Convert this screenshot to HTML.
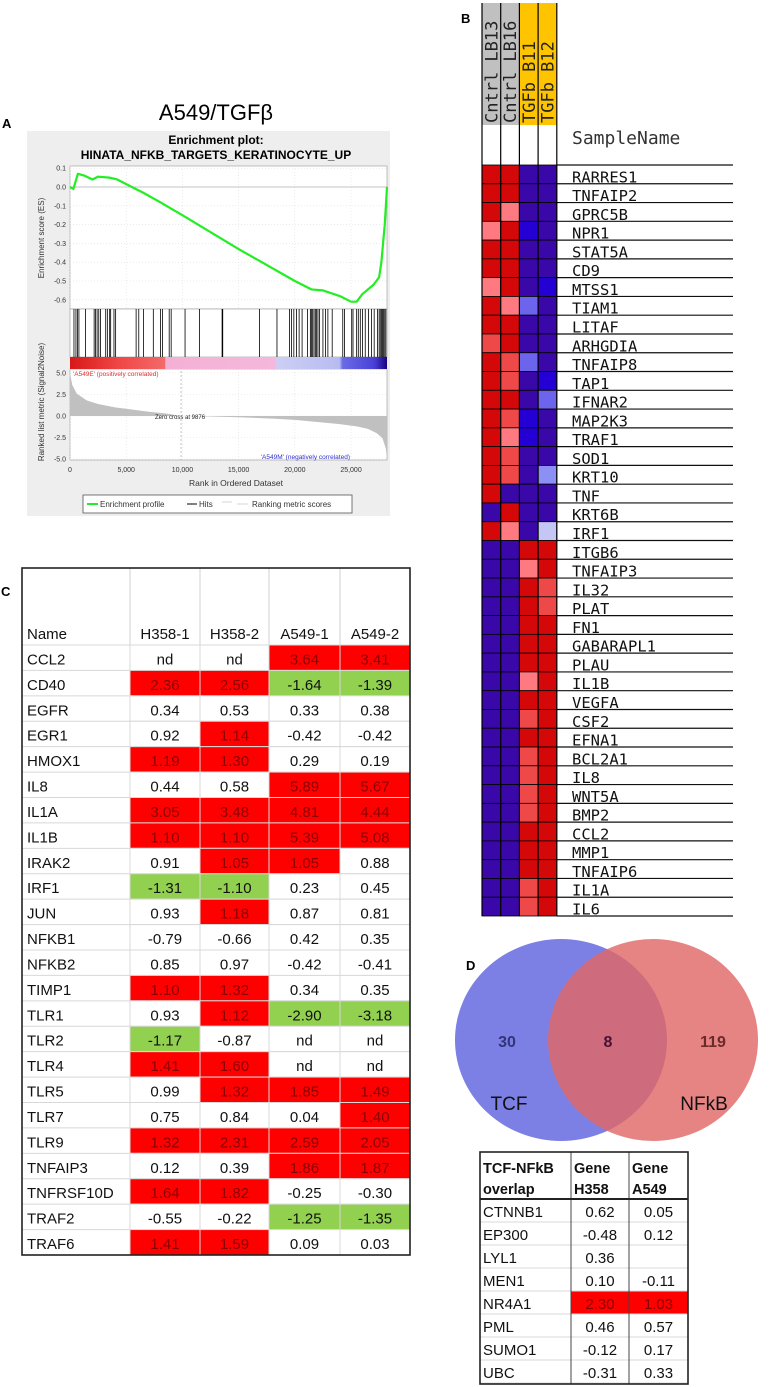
<!DOCTYPE html>
<html><head><meta charset="utf-8"><style>
html,body{margin:0;padding:0;background:#fff;width:773px;height:1387px;overflow:hidden}
svg{display:block}
.sans{font-family:"Liberation Sans",sans-serif}
.mono{font-family:"DejaVu Sans Mono","Liberation Mono",monospace}
</style></head><body>
<svg id="fig" width="773" height="1387" viewBox="0 0 773 1387" xmlns="http://www.w3.org/2000/svg">
<text x="2" y="128" class="sans" font-size="13" font-weight="bold">A</text>
<text x="461" y="23" class="sans" font-size="13" font-weight="bold">B</text>
<text x="1" y="596" class="sans" font-size="13" font-weight="bold">C</text>
<text x="466" y="970" class="sans" font-size="13" font-weight="bold">D</text>
<g id="pa"></g>
<g id="pb"></g>
<g id="pc"></g>
<g id="pd"></g>
<g id="pe"></g>
</svg>
<script>
// ---------- Panel A data ----------
const esRanks = [0,300,700,1300,2000,2500,3500,4200,5500,6500,8000,10000,15000,20000,21500,22500,24000,25000,25500,26000,27000,27500,27700,28000,28200];
const esValues = [0,-0.01,0.07,0.06,0.04,0.055,0.05,0.04,0.0,-0.03,-0.08,-0.15,-0.33,-0.5,-0.545,-0.55,-0.58,-0.61,-0.61,-0.57,-0.52,-0.48,-0.4,-0.2,0.0];
const hitRanks = [353,529,676,794,1382,2147,2265,2412,2559,2706,3176,3323,3529,3618,3912,4059,5882,6118,6529,7412,8059,8235,8824,9000,10235,11529,13529,13588,16853,18412,19529,19706,19912,20147,20382,20647,21118,21382,21471,21588,21706,21824,21941,22059,22206,22500,22735,22941,23324,24265,24412,25059,25176,25500,25647,25824,26029,26265,26559,26824,27059,27350,27500,27600,27700,27800,27900,28000,28100];
const metricRanks = [0,200,600,1500,2500,4000,5500,7000,8500,9876,12000,15000,18000,20000,22000,24000,25500,26500,27300,27800,28100,28200];
const metricValues = [5.0,3.6,2.6,1.8,1.4,1.0,0.75,0.5,0.3,0.0,-0.05,-0.15,-0.3,-0.45,-0.7,-0.95,-1.2,-1.5,-2.0,-2.6,-3.8,-5.0];
const xTicks = [0,5000,10000,15000,20000,25000];
const xTickLabels = ["0","5,000","10,000","15,000","20,000","25,000"];
const esTicks = [0.1,0.0,-0.1,-0.2,-0.3,-0.4,-0.5,-0.6];
const metricTicks = [5.0,2.5,0.0,-2.5,-5.0];
const zeroCross = 9876;

// ---------- Panel B data ----------
const genes = ["RARRES1","TNFAIP2","GPRC5B","NPR1","STAT5A","CD9","MTSS1","TIAM1","LITAF","ARHGDIA","TNFAIP8","TAP1","IFNAR2","MAP2K3","TRAF1","SOD1","KRT10","TNF","KRT6B","IRF1","ITGB6","TNFAIP3","IL32","PLAT","FN1","GABARAPL1","PLAU","IL1B","VEGFA","CSF2","EFNA1","BCL2A1","IL8","WNT5A","BMP2","CCL2","MMP1","TNFAIP6","IL1A","IL6"];
const samples = ["Cntrl LB13","Cntrl LB16","TGFb B11","TGFb B12"];
const col1 = [2,2,2,0.8,2,2,0.8,2,2,1.3,2,2,2,2,2,2,2,2,-2,2,-2,-2,-2,-2,-2,-2,-2,-2,-2,-2,-2,-2,-2,-2,-2,-2,-2,-2,-2,-2];
const col2 = [2,2,0.8,2,2,2,2,0.8,2,2,1.3,1.3,2,1.3,0.8,1.3,1.3,-2,2,0.8,-2,-2,-2,-2,-2,-2,-2,-2,-2,-2,-2,-2,-2,-2,-2,-2,-2,-2,-2,-2];
const col3 = [-2,-2,-2,-2.5,-2,-2,-2,-1,-2,-2,-1,-2,-2,-2.5,-2.5,-2,-2,-2,-2,-2,2,0.8,2,2,2,2,2,0.8,2,1.3,2,1.3,1.3,1.3,1.3,2,2,2,1.3,1.3];
const col4 = [-2,-2,-2,-2,-2,-2,-2.5,-2,-2,-2,-2,-2.5,-1,-2,-2,-2,-0.8,-2,-2,-0.4,2,2,1.3,1.3,2,2,2,2,2,2,2,2,2,2,2,2,2,2,2,2];

// ---------- Panel C data ----------
const cGenes = ["CCL2","CD40","EGFR","EGR1","HMOX1","IL8","IL1A","IL1B","IRAK2","IRF1","JUN","NFKB1","NFKB2","TIMP1","TLR1","TLR2","TLR4","TLR5","TLR7","TLR9","TNFAIP3","TNFRSF10D","TRAF2","TRAF6"];
const cCols = ["H358-1","H358-2","A549-1","A549-2"];
const h358a = ["nd","2.36","0.34","0.92","1.19","0.44","3.05","1.10","0.91","-1.31","0.93","-0.79","0.85","1.10","0.93","-1.17","1.41","0.99","0.75","1.32","0.12","1.64","-0.55","1.41"];
const h358b = ["nd","2.56","0.53","1.14","1.30","0.58","3.48","1.10","1.05","-1.10","1.18","-0.66","0.97","1.32","1.12","-0.87","1.60","1.32","0.84","2.31","0.39","1.82","-0.22","1.59"];
const a549a = ["3.64","-1.64","0.33","-0.42","0.29","5.89","4.81","5.39","1.05","0.23","0.87","0.42","-0.42","0.34","-2.90","nd","nd","1.85","0.04","2.59","1.86","-0.25","-1.25","0.09"];
const a549b = ["3.41","-1.39","0.38","-0.42","0.19","5.67","4.44","5.08","0.88","0.45","0.81","0.35","-0.41","0.35","-3.18","nd","nd","1.49","1.40","2.05","1.87","-0.30","-1.35","0.03"];

// ---------- Panel D data ----------
const vennCounts = [30,8,119];
const vennSets = ["TCF","NFkB"];
const dGenes = ["CTNNB1","EP300","LYL1","MEN1","NR4A1","PML","SUMO1","UBC"];
const dH358 = ["0.62","-0.48","0.36","0.10","2.30","0.46","-0.12","-0.31"];
const dA549 = ["0.05","0.12","","-0.11","1.03","0.57","0.17","0.33"];

const NS="http://www.w3.org/2000/svg";
function mk(parent,tag,attrs,text){const e=document.createElementNS(NS,tag);for(const k in attrs)e.setAttribute(k,attrs[k]);if(text!==undefined)e.textContent=text;parent.appendChild(e);return e;}

// ===== Panel A =====
(function(){
const g=document.getElementById('pa');
const X0=70,X1=387,RMAX=28000;
const xs=r=>X0+(r/RMAX)*(X1-X0)*(28000/28200);
const yES=v=>187-v*188;
const yM=v=>416-v*8.6;
let e;
e=mk(g,'rect',{x:27,y:131,width:363,height:385,fill:'#eeeeee'});

e=mk(g,'text',{x:216,y:120,'text-anchor':'middle','font-size':22,class:'sans'},'A549/TGFβ');

e=mk(g,'text',{x:216,y:144,'text-anchor':'middle','font-size':12,'font-weight':'bold',class:'sans'},'Enrichment plot:');

e=mk(g,'text',{x:216,y:159,'text-anchor':'middle','font-size':12,'font-weight':'bold',class:'sans'},'HINATA_NFKB_TARGETS_KERATINOCYTE_UP');

mk(g,'rect',{x:X0,y:166,width:X1-X0,height:143,fill:'#fff',stroke:'#999','stroke-width':0.6});
mk(g,'rect',{x:X0,y:309,width:X1-X0,height:48,fill:'#fff',stroke:'#999','stroke-width':0.6});
mk(g,'rect',{x:X0,y:369,width:X1-X0,height:91,fill:'#fff',stroke:'#999','stroke-width':0.6});
xTicks.forEach((t,i)=>{
  mk(g,'line',{x1:xs(t),x2:xs(t),y1:166,y2:309,stroke:'#ddd','stroke-width':0.6,'stroke-dasharray':'1,2'});
  mk(g,'line',{x1:xs(t),x2:xs(t),y1:369,y2:460,stroke:'#ddd','stroke-width':0.6,'stroke-dasharray':'1,2'});
  e=mk(g,'text',{x:xs(t),y:472,'text-anchor':'middle','font-size':7,class:'sans',fill:'#333'},xTickLabels[i]);
  
});
esTicks.forEach(t=>{
  mk(g,'line',{x1:X0,x2:X1,y1:yES(t),y2:yES(t),stroke:t===0?'#888':'#ddd','stroke-width':0.6,'stroke-dasharray':t===0?'':'1,2'});
  e=mk(g,'text',{x:66,y:yES(t)+2.5,'text-anchor':'end','font-size':7,class:'sans',fill:'#333'},t.toFixed(1));
  
});
metricTicks.forEach(t=>{
  mk(g,'line',{x1:X0,x2:X1,y1:yM(t),y2:yM(t),stroke:'#ddd','stroke-width':0.6,'stroke-dasharray':'1,2'});
  e=mk(g,'text',{x:66,y:yM(t)+2.5,'text-anchor':'end','font-size':7,class:'sans',fill:'#333'},t.toFixed(1));
  
});
e=mk(g,'text',{x:0,y:0,'font-size':8,class:'sans',fill:'#333','text-anchor':'middle',transform:'translate(44,238) rotate(-90)'},'Enrichment score (ES)');

e=mk(g,'text',{x:0,y:0,'font-size':8,class:'sans',fill:'#333','text-anchor':'middle',transform:'translate(44,402) rotate(-90)'},'Ranked list metric (Signal2Noise)');

e=mk(g,'text',{x:236,y:486,'text-anchor':'middle','font-size':8.5,class:'sans',fill:'#333'},'Rank in Ordered Dataset');

let d='M'+xs(0)+','+yM(0);
metricRanks.forEach((r,i)=>{d+=' L'+xs(r)+','+yM(metricValues[i]);});
d+=' L'+xs(metricRanks[metricRanks.length-1])+','+yM(0)+' Z';
e=mk(g,'path',{d:d,fill:'#c0c0c0',stroke:'none'});

e=mk(g,'line',{x1:xs(zeroCross),x2:xs(zeroCross),y1:371,y2:460,stroke:'#999','stroke-width':0.6,'stroke-dasharray':'2,2'});

e=mk(g,'text',{x:xs(zeroCross)-1,y:419,'text-anchor':'middle','font-size':6,class:'sans',fill:'#222'},'Zero cross at '+zeroCross);

e=mk(g,'text',{x:73,y:376,'font-size':6.5,class:'sans',fill:'#e03030'},"'A549E' (positively correlated)");

e=mk(g,'text',{x:350,y:459,'text-anchor':'end','font-size':6.5,class:'sans',fill:'#3030d0'},"'A549M' (negatively correlated)");

const defs=mk(g,'defs',{});
const lg=mk(defs,'linearGradient',{id:'cbar',x1:0,x2:1,y1:0,y2:0});
[[0,'#d81818'],[0.15,'#f04545'],[0.3,'#f36a6a'],[0.301,'#f4b0d4'],[0.65,'#f4b8dc'],[0.651,'#cccff4'],[0.85,'#b8bbf0'],[0.86,'#6a6ae6'],[0.96,'#4a40d8'],[1,'#1a0080']].forEach(s=>mk(lg,'stop',{offset:s[0],'stop-color':s[1]}));
e=mk(g,'rect',{x:X0,y:357,width:X1-X0,height:12,fill:'url(#cbar)'});

hitRanks.forEach(r=>{
  const h=mk(g,'line',{x1:xs(r),x2:xs(r),y1:309,y2:357,stroke:'#000','stroke-width':0.8});
  
  
});
let pts=esRanks.map((r,i)=>xs(r)+','+yES(esValues[i])).join(' ');
e=mk(g,'polyline',{points:pts,fill:'none',stroke:'#22ee22','stroke-width':2.2,'stroke-linejoin':'round'});

e=mk(g,'rect',{x:83,y:495,width:269,height:18,fill:'#fff',stroke:'#555','stroke-width':0.8});

mk(g,'line',{x1:87,x2:98,y1:504,y2:504,stroke:'#22ee22','stroke-width':2});
e=mk(g,'text',{x:100,y:507,'font-size':8,class:'sans',fill:'#333'},'Enrichment profile');

mk(g,'line',{x1:187,x2:197,y1:504,y2:504,stroke:'#000','stroke-width':1});
e=mk(g,'text',{x:199,y:507,'font-size':8,class:'sans',fill:'#333'},'Hits');

mk(g,'line',{x1:222,x2:232,y1:502,y2:502,stroke:'#bbb','stroke-width':0.6});
mk(g,'line',{x1:237,x2:248,y1:504,y2:504,stroke:'#bbb','stroke-width':0.6});
e=mk(g,'text',{x:252,y:507,'font-size':8,class:'sans',fill:'#333'},'Ranking metric scores');

})();

// ===== Panel B =====
(function(){
const g=document.getElementById('pb');
const CX=[482,500.7,519.4,538.1,556.8], TOP=165, RH=(916-165)/genes.length;
function col(v){
  if(v>=1.8)return '#d40808';
  if(v>=1.1)return '#ee4848';
  if(v>=0.5)return '#ff7a80';
  if(v<=-2.3)return '#2400d4';
  if(v<=-1.5)return '#3a08a8';
  if(v<=-0.9)return '#6c64ec';
  if(v<=-0.6)return '#8c90f4';
  return '#c4c6f6';
}
const cols=[col1,col2,col3,col4];
for(let c=0;c<4;c++){
  const hb=mk(g,'rect',{x:CX[c],y:3,width:CX[c+1]-CX[c],height:122,fill:c<2?'#c0c0c0':'#ffc400'});
  
  const t=mk(g,'text',{x:0,y:0,'font-size':17,class:'mono',fill:'#222',transform:'translate('+(CX[c]+15.5)+',123) rotate(-90)'},samples[c]);
  
}
let e=mk(g,'text',{x:572,y:144,'font-size':18,class:'mono',fill:'#333'},'SampleName');

for(let r=0;r<genes.length;r++){
  const y=TOP+r*RH;
  for(let c=0;c<4;c++){
    const cell=mk(g,'rect',{x:CX[c],y:y,width:CX[c+1]-CX[c],height:RH,fill:col(cols[c][r]),stroke:'#000','stroke-width':0.8});
    
    
  }
  const t=mk(g,'text',{x:572,y:y+RH-1.5,'font-size':15.5,class:'mono',fill:'#111'},genes[r]);
  
  
  mk(g,'line',{x1:557,x2:733,y1:y+RH,y2:y+RH,stroke:'#111','stroke-width':1.2});
}
mk(g,'line',{x1:557,x2:733,y1:TOP,y2:TOP,stroke:'#111','stroke-width':1.2});
for(let c=0;c<5;c++)mk(g,'line',{x1:CX[c],x2:CX[c],y1:3,y2:916,stroke:'#000','stroke-width':1.2});
})();

// ===== Panel C =====
(function(){
const g=document.getElementById('pc');
const X=[22,130,200,269,340,410], TOP=568, HB=645, RH=(1255-645)/cGenes.length;
const cols=[h358a,h358b,a549a,a549b];
function fill(c,v){
  if(v==='nd')return '#fff';
  const n=parseFloat(v);
  if(n>=1.0)return '#ff0000';
  if(n<=-1.0)return '#92d050';
  return '#fff';
}
let e=mk(g,'rect',{x:22,y:TOP,width:388,height:1255-TOP,fill:'#fff'});
for(let c=1;c<5;c++)mk(g,'line',{x1:X[c],x2:X[c],y1:TOP,y2:HB,stroke:'#d0d0d0','stroke-width':1});
e=mk(g,'text',{x:27,y:639,'font-size':15,class:'sans',fill:'#111'},'Name');

cCols.forEach((h,c)=>{const t=mk(g,'text',{x:(X[c+1]+X[c+2])/2,y:639,'text-anchor':'middle','font-size':15,class:'sans',fill:'#111'},h);
  });
for(let r=0;r<cGenes.length;r++){
  const y=HB+r*RH;
  for(let c=0;c<4;c++){
    const v=cols[c][r];
    const cell=mk(g,'rect',{x:X[c+1],y:y,width:X[c+2]-X[c+1],height:RH,fill:fill(c,v),stroke:'#d8d8d8','stroke-width':1});
    
    
    const t=mk(g,'text',{x:(X[c+1]+X[c+2])/2,y:y+RH-6,'text-anchor':'middle','font-size':15,class:'sans',fill:fill(c,v)==='#ff0000'?'#8a0000':'#111'},v);
    
    
  }
  mk(g,'line',{x1:22,x2:130,y1:y+RH,y2:y+RH,stroke:'#d8d8d8','stroke-width':1});
  const n=mk(g,'text',{x:27,y:y+RH-6,'font-size':15,class:'sans',fill:'#111'},cGenes[r]);
  
  
}
mk(g,'line',{x1:22,x2:410,y1:HB,y2:HB,stroke:'#d8d8d8','stroke-width':1});
mk(g,'line',{x1:130,x2:130,y1:HB,y2:1255,stroke:'#d8d8d8','stroke-width':1});
mk(g,'rect',{x:22,y:TOP,width:388,height:1255-TOP,fill:'none',stroke:'#222','stroke-width':1.6});
})();

// ===== Panel D venn =====
(function(){
const g=document.getElementById('pd');
let e=mk(g,'ellipse',{cx:561,cy:1040,rx:106,ry:101,fill:'#6a6ee0','fill-opacity':0.88});

e=mk(g,'ellipse',{cx:653,cy:1040,rx:105,ry:101,fill:'#e06868','fill-opacity':0.82});

const cxs=[507,608,713], fills=['#34347a','#4a1030','#6a2a2a'];
vennCounts.forEach((v,i)=>{const t=mk(g,'text',{x:cxs[i],y:1047,'text-anchor':'middle','font-size':16,'font-weight':'bold',class:'sans',fill:fills[i]},String(v));
  });
e=mk(g,'text',{x:509,y:1110,'text-anchor':'middle','font-size':19,class:'sans',fill:'#111'},vennSets[0]);

e=mk(g,'text',{x:704,y:1110,'text-anchor':'middle','font-size':19,class:'sans',fill:'#111'},vennSets[1]);

})();

// ===== Panel D table =====
(function(){
const g=document.getElementById('pe');
const X=[480,571,629,688], TOP=1152, HB=1199, RH=23;
mk(g,'rect',{x:480,y:TOP,width:208,height:1384-TOP,fill:'#fff'});
let e;
[['TCF-NFkB','overlap'],['Gene','H358'],['Gene','A549']].forEach((h,c)=>{
  e=mk(g,'text',{x:X[c]+3,y:1173,'font-size':14.5,'font-weight':'bold',class:'sans',fill:'#111'},h[0]);
  
  e=mk(g,'text',{x:X[c]+3,y:1194,'font-size':14.5,'font-weight':'bold',class:'sans',fill:'#111'},h[1]);
  
});
const cols=[dH358,dA549];
for(let r=0;r<dGenes.length;r++){
  const y=HB+r*RH;
  for(let c=0;c<2;c++){
    const v=cols[c][r]; const red=v!==''&&parseFloat(v)>=1.0;
    const cell=mk(g,'rect',{x:X[c+1],y:y,width:X[c+2]-X[c+1],height:RH,fill:red?'#ff0000':'#fff',stroke:'#d8d8d8','stroke-width':1});
    
    
    const t=mk(g,'text',{x:(X[c+1]+X[c+2])/2,y:y+RH-5,'text-anchor':'middle','font-size':15,class:'sans',fill:red?'#8a0000':'#111'},v);
    
    
  }
  mk(g,'line',{x1:480,x2:571,y1:y+RH,y2:y+RH,stroke:'#d8d8d8','stroke-width':1});
  const n=mk(g,'text',{x:483,y:y+RH-5,'font-size':15,class:'sans',fill:'#111'},dGenes[r]);
  
  
}
mk(g,'line',{x1:571,x2:571,y1:TOP,y2:1384,stroke:'#444','stroke-width':1});
mk(g,'line',{x1:629,x2:629,y1:TOP,y2:1384,stroke:'#444','stroke-width':1});
mk(g,'line',{x1:480,x2:688,y1:HB,y2:HB,stroke:'#222','stroke-width':2});
mk(g,'rect',{x:480,y:TOP,width:208,height:1384-TOP,fill:'none',stroke:'#222','stroke-width':1.6});
})();
</script>
</body></html>
